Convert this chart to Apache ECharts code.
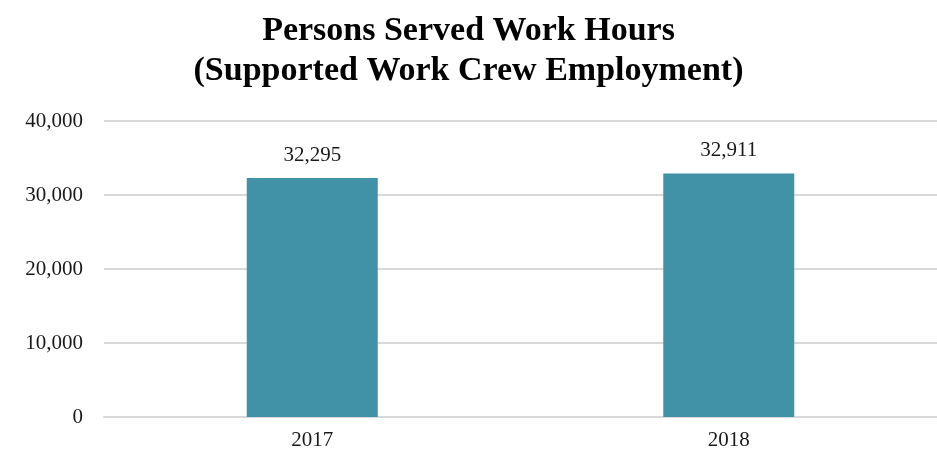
<!DOCTYPE html>
<html>
<head>
<meta charset="utf-8">
<script src="https://cdn.jsdelivr.net/npm/echarts@6/dist/echarts.min.js"></script>
<style>
  html, body { margin: 0; padding: 0; background: #ffffff; }
  #chart { width: 937px; height: 457px; }
</style>
</head>
<body>
<div id="chart"></div>
<script>
// Work hours of persons served, by year
const years = ['2017', '2018'];
const workHours = [32295, 32911];
const yTicks = [0, 10000, 20000, 30000, 40000];

const serif = '"Liberation Serif", "DejaVu Serif", serif';
const fmt = v => v.toLocaleString('en-US');

const chart = echarts.init(document.getElementById('chart'), null, { renderer: 'canvas' });
chart.setOption({
  animation: false,
  backgroundColor: '#ffffff',
  title: {
    text: 'Persons Served Work Hours\n(Supported Work Crew Employment)',
    left: 'center',
    top: 6,
    textStyle: {
      fontFamily: serif,
      fontWeight: 'bold',
      fontSize: 34,
      lineHeight: 40,
      color: '#000000'
    }
  },
  grid: { left: 104, top: 121, width: 836, height: 296, containLabel: false },
  xAxis: {
    type: 'category',
    data: years,
    axisLine: { show: true, lineStyle: { color: '#d9d9d9', width: 2 } },
    axisTick: { show: false },
    axisLabel: { fontFamily: serif, fontSize: 21, color: '#1a1a1a', margin: 13 }
  },
  yAxis: {
    type: 'value',
    min: yTicks[0],
    max: yTicks[yTicks.length - 1],
    interval: yTicks[1] - yTicks[0],
    axisLine: { show: false },
    axisTick: { show: false },
    splitLine: { lineStyle: { color: '#d9d9d9', width: 2 } },
    axisLabel: { fontFamily: serif, fontSize: 21, color: '#1a1a1a', margin: 21, formatter: fmt }
  },
  series: [{
    type: 'bar',
    data: workHours,
    barWidth: 131,
    itemStyle: { color: '#4192a7' },
    label: {
      show: true,
      position: 'top',
      distance: 12,
      fontFamily: serif,
      fontSize: 21,
      color: '#1a1a1a',
      formatter: p => fmt(p.value)
    }
  }]
});
</script>
</body>
</html>
